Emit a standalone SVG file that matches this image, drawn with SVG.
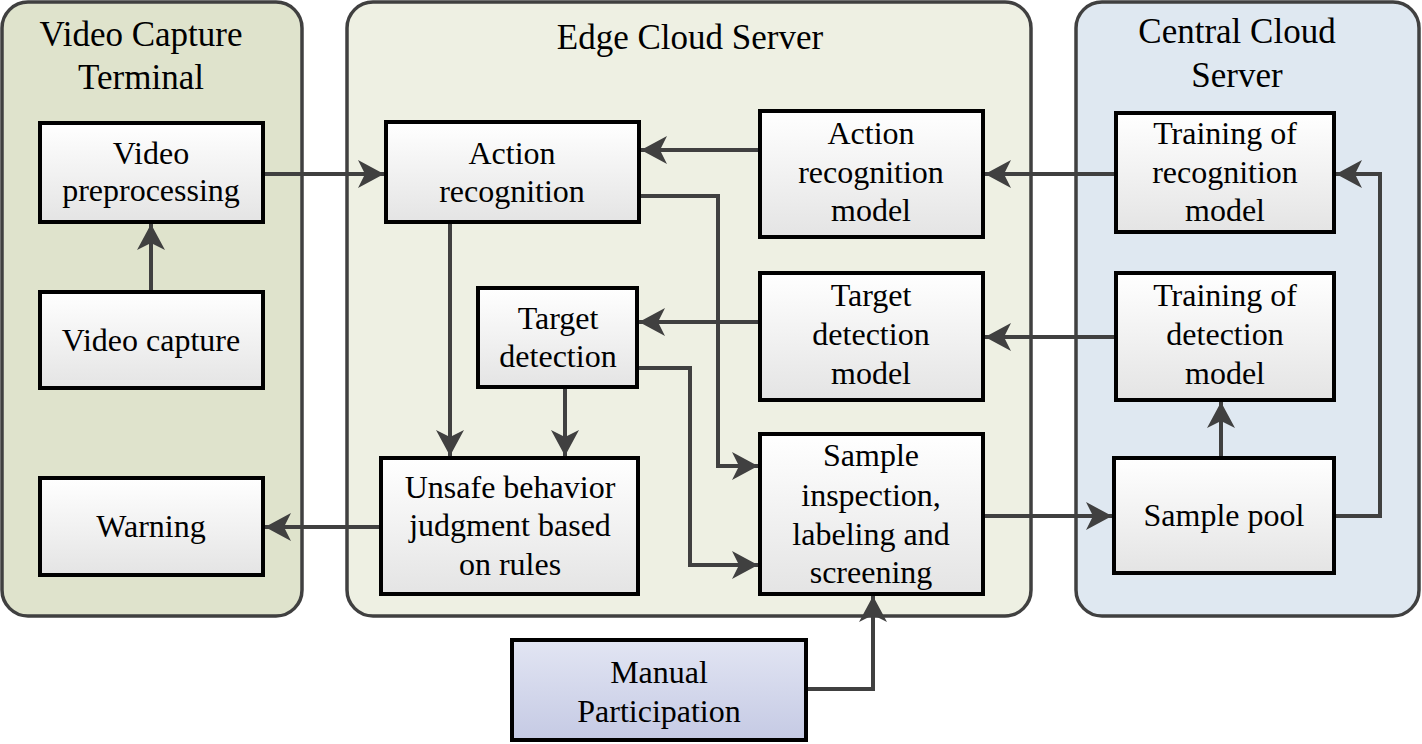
<svg xmlns="http://www.w3.org/2000/svg" width="1422" height="744" viewBox="0 0 1422 744" font-family="Liberation Serif, Times New Roman, serif" font-size="32" text-anchor="middle">
<style>
.cont{stroke:#404040;stroke-width:3.5}
.node{stroke:#000;stroke-width:4;fill:url(#ng)}
.c{fill:none;stroke:#404040;stroke-width:4;marker-end:url(#ah)}
</style>
<defs>
<linearGradient id="ng" x1="0" y1="0" x2="0" y2="1"><stop offset="0" stop-color="#ffffff"/><stop offset="1" stop-color="#e4e4e4"/></linearGradient>
<linearGradient id="mg" x1="0" y1="0" x2="0" y2="1"><stop offset="0" stop-color="#e2e5f3"/><stop offset="1" stop-color="#c5cae4"/></linearGradient>
<marker id="ah" markerUnits="userSpaceOnUse" markerWidth="28" markerHeight="28" refX="26" refY="14" orient="auto"><path d="M0,0 L26,14 L0,28 L7,14 Z" fill="#404040"/></marker>
</defs>
<g id="terminal"><rect class="cont" x="2" y="2" width="300" height="614" rx="26" fill="#dfe3cc"/><text x="141" y="46" font-size="35">Video Capture</text><text x="141" y="89" font-size="35">Terminal</text></g>
<g id="edge"><rect class="cont" x="347" y="2" width="684" height="614" rx="26" fill="#eef0e3"/><text x="690" y="49" font-size="35">Edge Cloud Server</text></g>
<g id="central"><rect class="cont" x="1076" y="2" width="343" height="614" rx="26" fill="#dfe8f1"/><text x="1237" y="43" font-size="35">Central Cloud</text><text x="1237" y="87" font-size="35">Server</text></g>
<g id="connectors">
<path class="c" d="M263,174 H384"/>
<path class="c" d="M151,292 V224"/>
<path class="c" d="M760,150 H641"/>
<path class="c" d="M639,196 H718 V466 H758"/>
<path class="c" d="M450,222 V456"/>
<path class="c" d="M565,387 V456"/>
<path class="c" d="M760,322 H639"/>
<path class="c" d="M637,368 H690 V565 H758"/>
<path class="c" d="M381,527 H265"/>
<path class="c" d="M1116,174 H985"/>
<path class="c" d="M1116,337 H985"/>
<path class="c" d="M983,516 H1112"/>
<path class="c" d="M1221,458 V402"/>
<path class="c" d="M1334,516 H1380 V174 H1336"/>
<path class="c" d="M806,689 H873 V596"/>
</g>
<g id="n-preproc"><rect class="node" x="40" y="123" width="223" height="99"/><text x="151" y="164">Video</text><text x="151" y="201">preprocessing</text></g>
<g id="n-capture"><rect class="node" x="40" y="292" width="223" height="96"/><text x="151" y="351">Video capture</text></g>
<g id="n-warning"><rect class="node" x="40" y="478" width="223" height="97"/><text x="151" y="537">Warning</text></g>
<g id="n-action"><rect class="node" x="386" y="122" width="253" height="100"/><text x="512" y="164">Action</text><text x="512" y="202">recognition</text></g>
<g id="n-target"><rect class="node" x="478" y="288" width="159" height="99"/><text x="558" y="329">Target</text><text x="558" y="367">detection</text></g>
<g id="n-unsafe"><rect class="node" x="381" y="458" width="257" height="136"/><text x="510" y="498">Unsafe behavior</text><text x="510" y="536">judgment based</text><text x="510" y="575">on rules</text></g>
<g id="n-arm"><rect class="node" x="760" y="111" width="223" height="126"/><text x="871" y="144">Action</text><text x="871" y="183">recognition</text><text x="871" y="221">model</text></g>
<g id="n-tdm"><rect class="node" x="760" y="273" width="223" height="127"/><text x="871" y="306">Target</text><text x="871" y="345">detection</text><text x="871" y="384">model</text></g>
<g id="n-sample"><rect class="node" x="760" y="434" width="223" height="160"/><text x="871" y="466">Sample</text><text x="871" y="506">inspection,</text><text x="871" y="545">labeling and</text><text x="871" y="583">screening</text></g>
<g id="n-trm"><rect class="node" x="1116" y="113" width="218" height="119"/><text x="1225" y="144">Training of</text><text x="1225" y="183">recognition</text><text x="1225" y="221">model</text></g>
<g id="n-tdt"><rect class="node" x="1116" y="273" width="218" height="127"/><text x="1225" y="306">Training of</text><text x="1225" y="345">detection</text><text x="1225" y="384">model</text></g>
<g id="n-pool"><rect class="node" x="1114" y="458" width="220" height="115"/><text x="1224" y="526">Sample pool</text></g>
<g id="n-manual"><rect class="node" x="512" y="640" width="294" height="100" style="fill:url(#mg)"/><text x="659" y="683">Manual</text><text x="659" y="722">Participation</text></g>
</svg>
